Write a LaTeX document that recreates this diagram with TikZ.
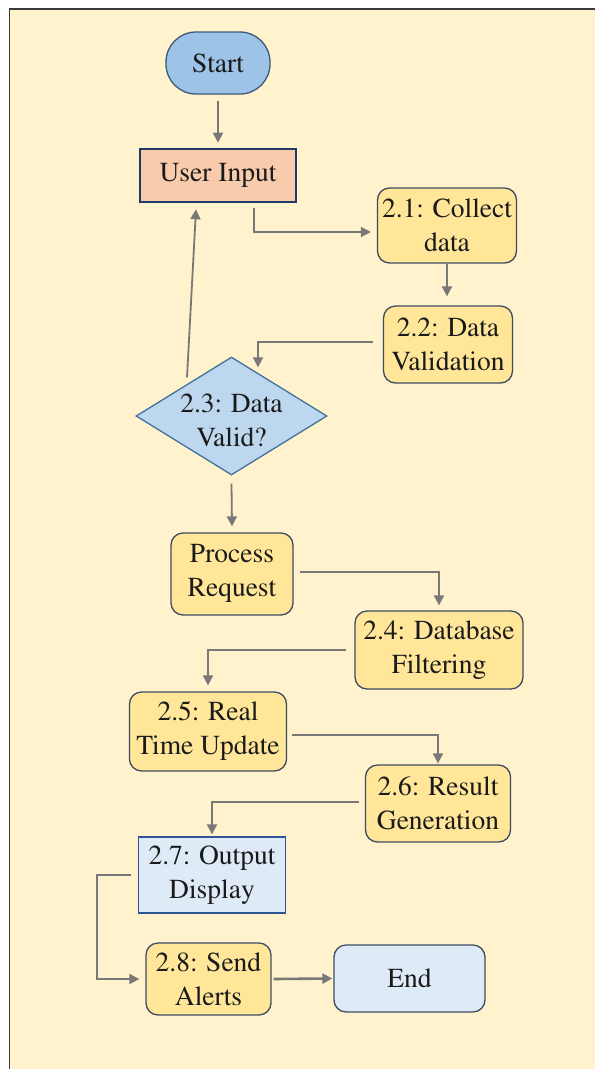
\documentclass[tikz,border=0pt]{standalone}
\usepackage[T1]{fontenc}
\usepackage{times}
\usetikzlibrary{arrows.meta,shapes.geometric,calc}

\definecolor{page}{HTML}{FFF2CC}
\definecolor{framecol}{HTML}{3A3A3A}
\definecolor{ink}{HTML}{1A1A1A}
\definecolor{arrowgray}{HTML}{787878}
\definecolor{procfill}{HTML}{FFE699}
\definecolor{procline}{HTML}{3E4C63}
\definecolor{startfill}{HTML}{9DC3E6}
\definecolor{startline}{HTML}{3C5A7A}
\definecolor{inputfill}{HTML}{F8CBAD}
\definecolor{inputline}{HTML}{1F3864}
\definecolor{decfill}{HTML}{BDD7EE}
\definecolor{decline}{HTML}{41719C}
\definecolor{lightfill}{HTML}{DEEBF7}
\definecolor{outline}{HTML}{2F5597}

\tikzset{
  lbl/.style={font=\rmfamily\fontsize{27.5}{34}\selectfont, text=ink, align=center},
  base/.style={lbl, inner sep=0pt},
  proc/.style={base, draw=procline, line width=1.3pt, fill=procfill, rounded corners=12pt},
  terminal/.style={base, draw=startline, line width=1.3pt, fill=startfill, rounded corners=30pt},
  inputbox/.style={base, draw=inputline, line width=2.6pt, fill=inputfill},
  outbox/.style={base, draw=outline, line width=1.3pt, fill=lightfill},
  endbox/.style={base, draw=procline, line width=1.3pt, fill=lightfill, rounded corners=12pt},
  decision/.style={diamond, draw=decline, line width=1.3pt, fill=decfill, inner sep=0pt},
  arr/.style={draw=arrowgray, line width=1.8pt, -{Triangle[length=10pt,width=10pt]}},
}

\begin{document}
\begin{tikzpicture}[x=1pt,y=-1pt]
  \useasboundingbox (0,0) rectangle (595,1069);
  \fill[white] (0,0) rectangle (595,1069);
  \fill[page] (9.5,9) rectangle (595,1069);
  \draw[framecol, line width=1.5pt] (9.5,1069) -- (9.5,9) -- (595,9);

  % nodes
  \node[terminal, minimum width=104pt, minimum height=62pt] (start) at (218,63) {Start};
  \node[inputbox, minimum width=156pt, minimum height=53pt] (user) at (218,175.5) {User Input};
  \node[proc, minimum width=139pt, minimum height=75pt] (c21) at (447,225.5) {2.1: Collect\\data};
  \node[proc, minimum width=129pt, minimum height=77pt] (c22) at (448,344.5) {2.2: Data\\Validation};
  \node[decision, minimum width=191pt, minimum height=118pt] (d23) at (231.5,416) {};
  \node[lbl] (d23t) at (231.5,420) {2.3: Data\\Valid?};
  \node[proc, minimum width=122pt, minimum height=82pt] (pr) at (232,574) {Process\\Request};
  \node[proc, minimum width=168pt, minimum height=78pt] (c24) at (439,650) {2.4: Database\\Filtering};
  \node[proc, minimum width=157pt, minimum height=79pt] (c25) at (208,731.5) {2.5: Real\\Time Update};
  \node[proc, minimum width=145pt, minimum height=77pt] (c26) at (438,803.5) {2.6: Result\\Generation};
  \node[outbox, minimum width=147pt, minimum height=76pt] (c27) at (212,875) {2.7: Output\\Display};
  \node[proc, minimum width=125pt, minimum height=72pt] (c28) at (208.5,979) {2.8: Send\\Alerts};
  \node[endbox, minimum width=151pt, minimum height=67pt] (end) at (409.5,978.5) {End};

  % connectors
  \draw[arr] ([yshift=-6pt]start.south) -- ([yshift=5pt]user.north);
  \draw[arr] ([xshift=36pt,yshift=-5pt]user.south) |- ([xshift=-6pt,yshift=-6.5pt]c21.west);
  \draw[arr] (c21.south) -- ([yshift=9pt]c21.south |- c22.north);
  \draw[arr] ([xshift=-10pt,yshift=2.5pt]c22.west) -| ([xshift=26.5pt,yshift=-11pt]d23.north);
  \draw[arr] ([xshift=-44.5pt,yshift=-21pt]d23.north) -- ([xshift=-22pt,yshift=-6pt]user.south);
  \draw[arr] ([yshift=-8pt]d23.south) -- ([yshift=6pt]pr.north);
  \draw[arr] ([xshift=6pt,yshift=2pt]pr.east) -| ([yshift=5pt]c24.north);
  \draw[arr] ([xshift=-8pt]c24.west) -| ([yshift=6pt]c25.north);
  \draw[arr] ([xshift=5pt,yshift=-3.5pt]c25.east) -| ([yshift=1pt]c26.north);
  \draw[arr] ([xshift=-6pt,yshift=1.5pt]c26.west) -| ([yshift=2pt]c27.north);
  \draw[arr] ([xshift=-7pt]c27.west) -- ++(-34pt,0) |- ([xshift=-6pt]c28.west);
  \draw[arr, line width=2.6pt] ([xshift=2pt]c28.east) -- ([xshift=-1pt]end.west);
\end{tikzpicture}
\end{document}
